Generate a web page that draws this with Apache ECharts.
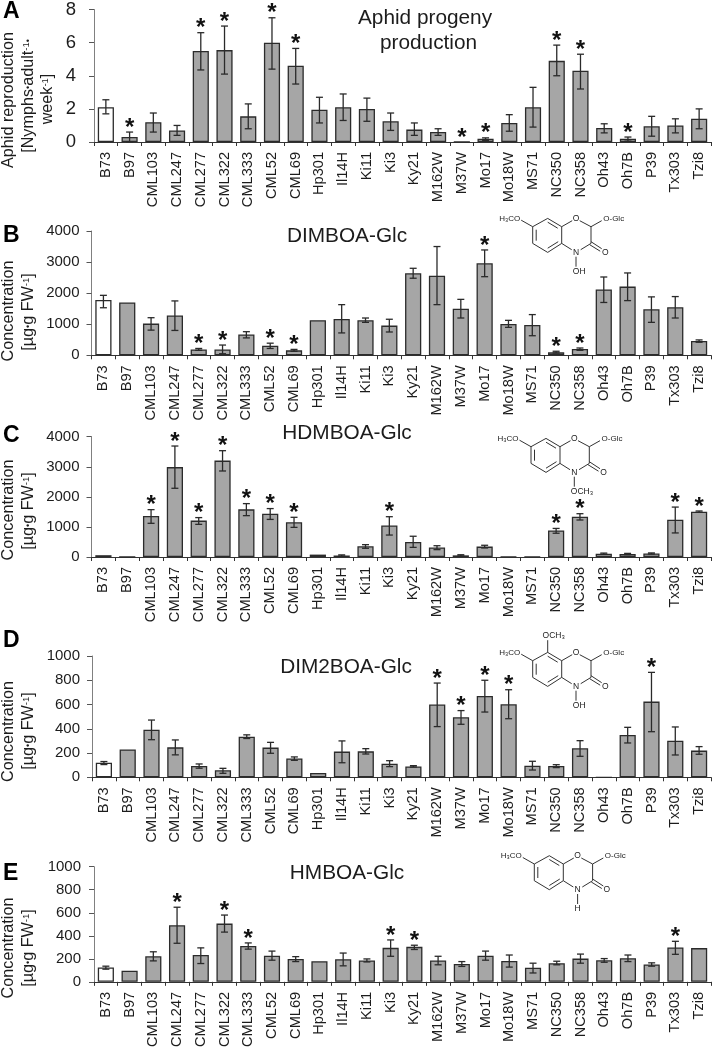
<!DOCTYPE html>
<html><head><meta charset="utf-8"><style>html,body{margin:0;padding:0;background:#fff}#c{width:712px;height:1050px}</style>
<script src="https://cdn.jsdelivr.net/npm/echarts@6/dist/echarts.min.js"></script></head><body><div id="c"></div>
<script>
const categories=['B73','B97','CML103','CML247','CML277','CML322','CML333','CML52','CML69','Hp301','Il14H','Ki11','Ki3','Ky21','M162W','M37W','Mo17','Mo18W','MS71','NC350','NC358','Oh43','Oh7B','P39','Tx303','Tzi8'];

const aMean=[2.1,0.3,1.2,0.7,5.5,5.55,1.55,6,4.6,1.95,2.1,2,1.25,0.75,0.6,0,0.2,1.15,2.1,4.9,4.3,0.85,0.2,0.95,1,1.4];
const aLow=[1.7,0,0.6,0.4,4.35,4.1,0.8,4.4,3.5,1.15,1.3,1.25,0.7,0.4,0.4,null,0.1,0.65,0.9,4,3.2,0.55,0.05,0.35,0.55,0.8];
const aHigh=[2.55,0.6,1.75,1,6.6,7,2.3,7.5,5.65,2.7,2.9,2.65,1.75,1.15,0.8,null,0.25,1.65,3.3,5.85,5.3,1.1,0.3,1.55,1.4,2];
const aStars=['B97','CML277','CML322','CML52','CML69','M37W','Mo17','NC350','NC358','Oh7B'];

const bMean=[1780,1700,1020,1280,190,190,670,310,160,1130,1170,1130,955,2640,2560,1500,2960,1010,975,95,205,2120,2210,1480,1545,460];
const bLow=[1530,null,810,800,160,50,560,220,130,null,720,1060,750,2480,1630,1200,2530,900,630,75,160,1700,1760,1060,1200,420];
const bHigh=[1930,null,1210,1750,220,330,760,390,190,null,1630,1200,1160,2800,3500,1800,3390,1125,1310,130,235,2520,2650,1880,1890,495];
const bStars=['CML277','CML322','CML52','CML69','Mo17','NC350','NC358'];

const cMean=[60,0,1365,2990,1210,3205,1585,1440,1155,80,50,355,1050,500,320,55,345,10,10,885,1340,110,100,120,1240,1505];
const cLow=[null,null,1120,2285,1085,2860,1375,1250,985,null,30,290,730,320,245,35,300,null,null,790,1230,90,80,100,800,1485];
const cHigh=[null,null,1575,3690,1310,3535,1775,1610,1320,null,70,410,1340,690,375,75,390,null,null,950,1440,130,120,135,1660,1530];
const cStars=['CML103','CML247','CML277','CML322','CML333','CML52','CML69','Ki3','NC350','NC358','Tx303','Tzi8'];

const dMean=[120,230,393,247,93,58,335,245,155,36,212,214,112,90,600,495,670,602,96,93,239,0,349,624,302,220];
const dLow=[105,null,310,185,75,33,320,198,140,null,120,192,88,85,418,437,538,483,60,80,173,null,283,376,184,190];
const dHigh=[130,null,472,308,110,74,350,288,168,null,300,236,137,96,777,550,800,722,132,104,302,null,412,865,415,253];
const dStars=['M162W','M37W','Mo17','Mo18W','P39'];

const eMean=[125,97,222,491,233,506,312,227,199,179,196,185,295,304,185,156,227,182,122,162,202,187,205,151,298,293];
const eLow=[110,null,182,335,159,432,284,188,176,null,139,173,222,281,148,134,188,128,77,148,162,170,176,136,239,null];
const eHigh=[136,null,261,648,295,580,338,267,219,null,250,199,364,318,222,176,267,233,162,179,241,202,233,165,352,null];
const eStars=['CML247','CML322','CML333','Ki3','Ky21','Tx303'];

const FONT='"Liberation Sans",Arial,sans-serif', INK='#1c1c1c';
const panels=[
 {mean:aMean,low:aLow,high:aHigh,stars:aStars,max:8,step:2,left:94,top:9.5,bottom:142,tickSize:18.5,margin:18},
 {mean:bMean,low:bLow,high:bHigh,stars:bStars,max:4000,step:1000,left:91.5,top:231,bottom:355.3,tickSize:15,margin:12},
 {mean:cMean,low:cLow,high:cHigh,stars:cStars,max:4000,step:1000,left:91.5,top:436.7,bottom:557,tickSize:15,margin:12},
 {mean:dMean,low:dLow,high:dHigh,stars:dStars,max:1000,step:200,left:92,top:656,bottom:777.3,tickSize:15,margin:12},
 {mean:eMean,low:eLow,high:eHigh,stars:eStars,max:1000,step:200,left:94,top:866.7,bottom:984,tickSize:15,margin:13}
];
const grid=[],xAxis=[],yAxis=[],series=[];
panels.forEach((p,i)=>{
 grid.push({left:p.left,right:1,top:p.top,height:p.bottom-p.top});
 xAxis.push({type:'category',gridIndex:i,data:categories,
  axisLine:{show:true,lineStyle:{color:'#333',width:1}},
  axisTick:{show:true,length:4,alignWithLabel:false,lineStyle:{color:'#333'}},
  axisLabel:{interval:0,rotate:90,margin:10,fontFamily:FONT,fontSize:14.6,color:INK}});
 yAxis.push({type:'value',gridIndex:i,min:0,max:p.max,interval:p.step,splitLine:{show:false},
  axisLine:{show:true,lineStyle:{color:'#808080',width:1}},
  axisTick:{show:true,length:5,lineStyle:{color:'#555'}},
  axisLabel:{margin:p.margin,fontFamily:FONT,fontSize:p.tickSize,color:INK,formatter:v=>String(v)}});
 series.push({type:'bar',xAxisIndex:i,yAxisIndex:i,barWidth:'68%',
  data:p.mean.map((v,j)=>({value:v,itemStyle:{color:j===0?'#fff':'#a6a6a6',borderColor:'#2b2b2b',borderWidth:1.3}}))});
 series.push({type:'custom',xAxisIndex:i,yAxisIndex:i,z:5,silent:true,
  data:categories.map((c,j)=>[j,p.low[j],p.high[j],p.stars.includes(c)?1:0,p.mean[j]]),
  encode:{x:0,y:4},
  renderItem(params,api){
   const j=api.value(0),lo=p.low[j],hi=p.high[j],star=api.value(3),kids=[];
   const x=api.coord([j,0])[0];
   let topY=api.coord([j,p.mean[j]])[1];
   if(lo!=null&&hi!=null){
    const yl=api.coord([j,lo])[1],yh=api.coord([j,hi])[1];topY=yh;
    const st={stroke:'#2a2a2a',lineWidth:1.3};
    kids.push({type:'line',shape:{x1:x,y1:yl,x2:x,y2:yh},style:st});
    kids.push({type:'line',shape:{x1:x-3.5,y1:yl,x2:x+3.5,y2:yl},style:st});
    kids.push({type:'line',shape:{x1:x-3.5,y1:yh,x2:x+3.5,y2:yh},style:st});
   }
   if(star)kids.push({type:'text',style:{text:'*',x:x,y:topY-4,align:'center',verticalAlign:'middle',font:'bold 24px '+FONT,fill:'#111'}});
   return {type:'group',children:kids};
  }});
});
const g=[];
function txt(text,x,y,size,opt){opt=opt||{};g.push({type:'text',x:x,y:y,rotation:opt.rot||0,z:20,silent:true,style:{text:text,x:0,y:0,font:(opt.bold?'bold ':'')+size+'px '+FONT,fill:opt.fill||INK,align:opt.align||'center',verticalAlign:opt.va||'middle',rich:opt.rich}});}
const R=Math.PI/2;
const sup={n:{fontSize:16.2,fontFamily:FONT,color:INK},s:{fontSize:9.5,fontFamily:FONT,verticalAlign:'top',color:INK},d:{fontSize:9,fontFamily:FONT,verticalAlign:'middle',color:INK}};
function rt(text,x,y){txt(text,x,y,16.2,{rot:R,rich:sup});}
txt('Aphid reproduction',9,100,16.2,{rot:R});
rt('{n|[Nymphs}{d|•}{n|adult}{s|-1}{d|•}',29,96);
rt('{n|week}{s|-1}{n|]}',48,99);
[[311,312],[510,511],[731.5,731],[948,948]].forEach(c=>{
 txt('Concentration',9,c[0],16.2,{rot:R});
 rt('{n|[µg}{d|•}{n|g FW}{s|-1}{n|]}',29,c[1]);
});
[['A',19],['B',242.7],['C',442.7],['D',648],['E',880.7]].forEach(l=>txt(l[0],3,l[1]+4,23,{bold:true,align:'left',va:'bottom',fill:'#000'}));
txt('Aphid progeny',425,18,20.8);txt('production',428.5,43,20.8);
txt('DIMBOA-Glc',347,236.7,20.8);txt('HDMBOA-Glc',347,433,20.8);txt('DIM2BOA-Glc',346,667,20.8);txt('HMBOA-Glc',347,873,20.8);

function structure(ax,ay,sub,ome){
 const L=(pts,w)=>g.push({type:'polyline',z:20,silent:true,shape:{points:pts.map(q=>[ax+q[0],ay+q[1]])},style:{fill:null,stroke:'#333',lineWidth:w||1}});
 const T=(s,x,y,f)=>txt(s,ax+x,ay+y,f||8,{fill:'#222'});
 L([[0,0],[-14,-8.3],[-29,0],[-29,16.7],[-14,25.7],[0,16.7],[0,0]]);
 L([[-4,1.5],[-14,-4.5]]);L([[-25.5,3],[-25.5,14]]);L([[-14,21.5],[-3.5,15]]);
 L([[0,0],[10.5,-6]]);L([[18,-6],[29.3,0],[29.3,16.7],[19,23]]);L([[10,23],[0,16.7]]);
 L([[29.3,15],[40,22]]);L([[28,18],[38.5,24.5]]);
 L([[29.3,0],[40,-6]]);
 L([[-29,0],[-40.5,-6.5]]);
 T('O',14.3,-8.3,8.5);T('O-Glc',52,-8.3);T('H₃CO',-52,-8.3);T('O',43.5,25.8,8.5);T('N',14.3,25.8,8.5);
 if(sub==='OH'){L([[14.3,30],[14.3,40]]);T('OH',17.5,44.5,8.5);}
 if(sub==='H'){L([[14.3,30],[14.3,40]]);T('H',14.3,45,8.5);}
 if(sub==='OCH3'){L([[14.3,30],[14.3,40]]);T('OCH₃',22,45,8.5);}
 if(ome){L([[-14,-8.3],[-14,-20.5]]);T('OCH₃',-8,-25.5,8.5);}
}
structure(561.7,226.7,'OH',false);
structure(560,446.7,'OCH3',false);
structure(561.7,660.7,'OH',true);
structure(563.3,864,'H',false);

const chart=echarts.init(document.getElementById('c'),null,{renderer:'canvas'});
chart.setOption({animation:false,backgroundColor:'#fff',grid,xAxis,yAxis,series,graphic:{elements:g}});
</script></body></html>
